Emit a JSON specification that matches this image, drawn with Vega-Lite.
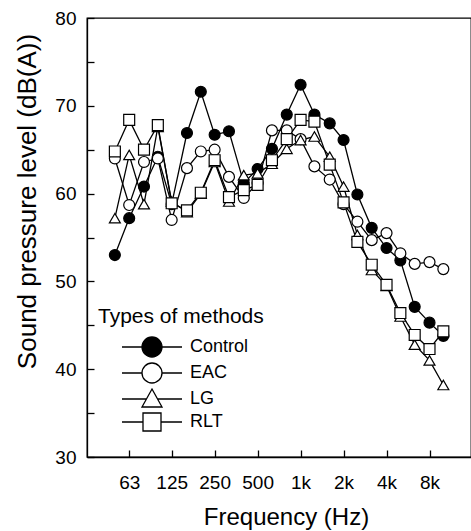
{
  "$schema": "https://vega.github.io/schema/vega-lite/v6.json",
  "width": 384,
  "height": 439,
  "autosize": {"type": "none"},
  "padding": {"left": 87, "top": 18, "right": 0, "bottom": 74},
  "background": "white",
  "config": {
    "view": {"stroke": "black", "strokeWidth": 1.3},
    "font": "Liberation Sans"
  },
  "data": {"values": [
    {"freq": 50, "method": "Control", "spl": 53.0}, {"freq": 63, "method": "Control", "spl": 57.2}, {"freq": 80, "method": "Control", "spl": 60.8}, {"freq": 100, "method": "Control", "spl": 64.2}, {"freq": 125, "method": "Control", "spl": 58.8}, {"freq": 160, "method": "Control", "spl": 66.9}, {"freq": 200, "method": "Control", "spl": 71.6}, {"freq": 250, "method": "Control", "spl": 66.7}, {"freq": 315, "method": "Control", "spl": 67.1}, {"freq": 400, "method": "Control", "spl": 61.2}, {"freq": 500, "method": "Control", "spl": 62.8}, {"freq": 630, "method": "Control", "spl": 65.1}, {"freq": 800, "method": "Control", "spl": 69.0}, {"freq": 1000, "method": "Control", "spl": 72.4}, {"freq": 1250, "method": "Control", "spl": 69.0}, {"freq": 1600, "method": "Control", "spl": 68.0}, {"freq": 2000, "method": "Control", "spl": 66.1}, {"freq": 2500, "method": "Control", "spl": 59.9}, {"freq": 3150, "method": "Control", "spl": 56.1}, {"freq": 4000, "method": "Control", "spl": 53.8}, {"freq": 5000, "method": "Control", "spl": 52.4}, {"freq": 6300, "method": "Control", "spl": 47.1}, {"freq": 8000, "method": "Control", "spl": 45.3}, {"freq": 10000, "method": "Control", "spl": 43.8},
    {"freq": 50, "method": "EAC", "spl": 64.0}, {"freq": 63, "method": "EAC", "spl": 58.7}, {"freq": 80, "method": "EAC", "spl": 63.6}, {"freq": 100, "method": "EAC", "spl": 64.0}, {"freq": 125, "method": "EAC", "spl": 57.0}, {"freq": 160, "method": "EAC", "spl": 62.9}, {"freq": 200, "method": "EAC", "spl": 64.8}, {"freq": 250, "method": "EAC", "spl": 65.0}, {"freq": 315, "method": "EAC", "spl": 61.9}, {"freq": 400, "method": "EAC", "spl": 59.5}, {"freq": 500, "method": "EAC", "spl": 61.2}, {"freq": 630, "method": "EAC", "spl": 67.2}, {"freq": 800, "method": "EAC", "spl": 67.2}, {"freq": 1000, "method": "EAC", "spl": 66.2}, {"freq": 1250, "method": "EAC", "spl": 63.1}, {"freq": 1600, "method": "EAC", "spl": 61.6}, {"freq": 2000, "method": "EAC", "spl": 58.8}, {"freq": 2500, "method": "EAC", "spl": 56.8}, {"freq": 3150, "method": "EAC", "spl": 54.7}, {"freq": 4000, "method": "EAC", "spl": 55.5}, {"freq": 5000, "method": "EAC", "spl": 53.2}, {"freq": 6300, "method": "EAC", "spl": 52.0}, {"freq": 8000, "method": "EAC", "spl": 52.2}, {"freq": 10000, "method": "EAC", "spl": 51.4},
    {"freq": 50, "method": "LG", "spl": 57.2}, {"freq": 63, "method": "LG", "spl": 64.4}, {"freq": 80, "method": "LG", "spl": 58.8}, {"freq": 100, "method": "LG", "spl": 67.6}, {"freq": 125, "method": "LG", "spl": 59.1}, {"freq": 160, "method": "LG", "spl": 57.9}, {"freq": 200, "method": "LG", "spl": 60.0}, {"freq": 250, "method": "LG", "spl": 63.6}, {"freq": 315, "method": "LG", "spl": 59.1}, {"freq": 400, "method": "LG", "spl": 62.1}, {"freq": 500, "method": "LG", "spl": 62.3}, {"freq": 630, "method": "LG", "spl": 63.4}, {"freq": 800, "method": "LG", "spl": 65.1}, {"freq": 1000, "method": "LG", "spl": 66.1}, {"freq": 1250, "method": "LG", "spl": 66.5}, {"freq": 1600, "method": "LG", "spl": 64.2}, {"freq": 2000, "method": "LG", "spl": 60.8}, {"freq": 2500, "method": "LG", "spl": 55.3}, {"freq": 3150, "method": "LG", "spl": 51.3}, {"freq": 4000, "method": "LG", "spl": 49.5}, {"freq": 5000, "method": "LG", "spl": 46.0}, {"freq": 6300, "method": "LG", "spl": 42.8}, {"freq": 8000, "method": "LG", "spl": 41.0}, {"freq": 10000, "method": "LG", "spl": 38.2},
    {"freq": 50, "method": "RLT", "spl": 64.8}, {"freq": 63, "method": "RLT", "spl": 68.4}, {"freq": 80, "method": "RLT", "spl": 65.0}, {"freq": 100, "method": "RLT", "spl": 67.8}, {"freq": 125, "method": "RLT", "spl": 58.9}, {"freq": 160, "method": "RLT", "spl": 58.1}, {"freq": 200, "method": "RLT", "spl": 60.1}, {"freq": 250, "method": "RLT", "spl": 63.8}, {"freq": 315, "method": "RLT", "spl": 59.6}, {"freq": 400, "method": "RLT", "spl": 60.4}, {"freq": 500, "method": "RLT", "spl": 61.0}, {"freq": 630, "method": "RLT", "spl": 63.8}, {"freq": 800, "method": "RLT", "spl": 66.2}, {"freq": 1000, "method": "RLT", "spl": 68.4}, {"freq": 1250, "method": "RLT", "spl": 68.2}, {"freq": 1600, "method": "RLT", "spl": 63.3}, {"freq": 2000, "method": "RLT", "spl": 59.0}, {"freq": 2500, "method": "RLT", "spl": 54.5}, {"freq": 3150, "method": "RLT", "spl": 51.9}, {"freq": 4000, "method": "RLT", "spl": 49.6}, {"freq": 5000, "method": "RLT", "spl": 46.4}, {"freq": 6300, "method": "RLT", "spl": 43.9}, {"freq": 8000, "method": "RLT", "spl": 42.3}, {"freq": 10000, "method": "RLT", "spl": 44.3}
  ]},
  "encoding": {
    "x": {
      "field": "freq", "type": "quantitative",
      "scale": {"type": "log", "domain": [31.9, 15624], "nice": false},
      "axis": {
        "values": [63, 125, 250, 500, 1000, 2000, 4000, 8000],
        "labelExpr": "datum.value >= 1000 ? (datum.value / 1000) + 'k' : datum.label",
        "grid": false, "tickSize": -7, "tickColor": "black", "tickWidth": 1.3,
        "domainColor": "black", "domainWidth": 1.3,
        "labelFontSize": 19, "labelColor": "black", "labelPadding": 23,
        "title": "Frequency (Hz)", "titleFontSize": 24, "titleFontWeight": "normal", "titleColor": "black",
        "titleX": 199, "titleY": 67, "titleBaseline": "alphabetic", "titleAlign": "center"
      }
    },
    "y": {
      "field": "spl", "type": "quantitative",
      "scale": {"domain": [30, 80], "nice": false},
      "axis": {
        "values": [30, 35, 40, 45, 50, 55, 60, 65, 70, 75, 80],
        "labelExpr": "datum.value % 10 === 0 ? datum.label : ''",
        "grid": false, "tickSize": -7, "tickColor": "black", "tickWidth": 1.3,
        "domainColor": "black", "domainWidth": 1.3,
        "labelFontSize": 19, "labelColor": "black", "labelPadding": 18,
        "title": "Sound pressure level (dB(A))", "titleFontSize": 26, "titleFontWeight": "normal", "titleColor": "black",
        "titleX": -60, "titleY": 183, "titleBaseline": "middle", "titleAlign": "center", "titleAngle": -90
      }
    }
  },
  "layer": [
    {
      "mark": {"type": "line", "color": "black", "strokeWidth": 1.3},
      "encoding": {"detail": {"field": "method", "type": "nominal"}}
    },
    {
      "mark": {"type": "point", "filled": true, "stroke": "black", "strokeWidth": 1.2, "size": 120, "opacity": 1},
      "encoding": {
        "shape": {"field": "method", "type": "nominal", "scale": {"domain": ["Control", "EAC", "LG", "RLT"], "range": ["circle", "circle", "triangle-up", "square"]}, "legend": null},
        "fill": {"field": "method", "type": "nominal", "scale": {"domain": ["Control", "EAC", "LG", "RLT"], "range": ["black", "white", "white", "white"]}, "legend": null}
      }
    },
    {
      "mark": {"type": "point", "filled": true, "stroke": "black", "opacity": 0},
      "encoding": {
        "fill": {
          "field": "method", "type": "nominal",
          "scale": {"domain": ["Control", "EAC", "LG", "RLT"], "range": ["black", "white", "white", "white"]},
          "legend": {
            "title": "Types of methods", "orient": "none", "legendX": 11, "legendY": 288,
            "padding": 0, "titleLimit": 400, "labelLimit": 200,
            "titleFontSize": 21, "titleFontWeight": "normal", "titleColor": "black", "titlePadding": 9,
            "labelFontSize": 18, "labelColor": "black",
            "symbolSize": 400, "symbolStrokeWidth": 1.3, "symbolStrokeColor": "black",
            "symbolOffset": 43, "labelOffset": 27, "rowPadding": 0,
            "encode": {"symbols": {"update": {
              "opacity": {"value": 1},
              "stroke": {"value": "black"},
              "strokeWidth": {"value": 1.3}
            }}}
          }
        },
        "shape": {
          "field": "method", "type": "nominal",
          "scale": {"domain": ["Control", "EAC", "LG", "RLT"], "range": [
            "M-3,0H-1M1,0H3M-1,0A1,1 0 1,1 1,0A1,1 0 1,1 -1,0Z",
            "M-3,0H-1M1,0H3M-1,0A1,1 0 1,1 1,0A1,1 0 1,1 -1,0Z",
            "M-3,0H-0.56M0.56,0H3M0,-1L1,0.8L-1,0.8Z",
            "M-3,0H-0.9M0.9,0H3M-0.9,-0.9H0.9V0.9H-0.9Z"
          ]},
          "legend": {
            "title": "Types of methods", "orient": "none", "legendX": 11, "legendY": 288,
            "padding": 0, "titleLimit": 400, "labelLimit": 200,
            "titleFontSize": 21, "titleFontWeight": "normal", "titleColor": "black", "titlePadding": 9,
            "labelFontSize": 18, "labelColor": "black",
            "symbolSize": 400, "symbolStrokeWidth": 1.3, "symbolStrokeColor": "black",
            "symbolOffset": 43, "labelOffset": 27, "rowPadding": 0,
            "encode": {"symbols": {"update": {
              "opacity": {"value": 1},
              "stroke": {"value": "black"},
              "strokeWidth": {"value": 1.3}
            }}}
          }
        }
      }
    }
  ],
  "resolve": {"scale": {"shape": "independent", "fill": "independent"}, "legend": {"shape": "independent", "fill": "independent"}}
}
